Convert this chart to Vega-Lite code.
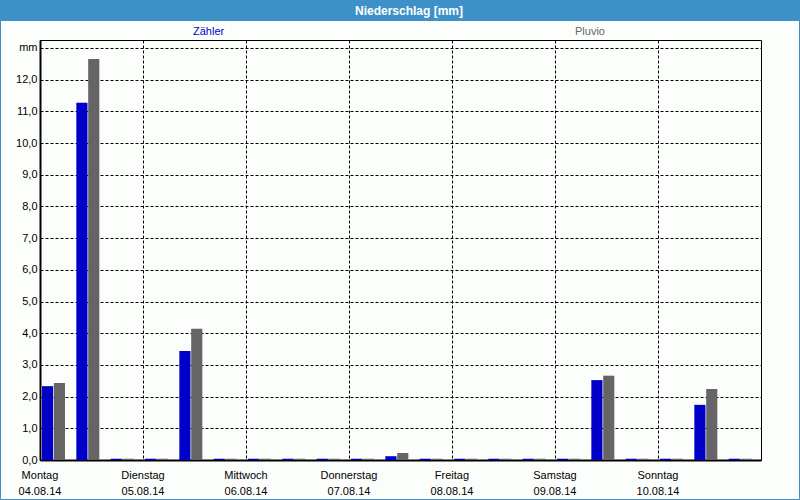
{
  "$schema": "https://vega.github.io/schema/vega-lite/v6.json",
  "width": 721,
  "height": 420,
  "autosize": {"type": "none"},
  "padding": {"left": 40, "top": 40, "right": 39, "bottom": 40},
  "background": "#fcfefc",
  "config": {
    "font": "Liberation Sans",
    "view": {"stroke": "#000000", "strokeWidth": 1},
    "axis": {"labelFont": "Liberation Sans", "labelFontSize": 11, "labelColor": "#000000"}
  },
  "layer": [
    {
      "data": {
        "values": [
          {"slot": 0, "series": "Zähler", "mm": 2.33}, {"slot": 0, "series": "Pluvio", "mm": 2.43},
          {"slot": 1, "series": "Zähler", "mm": 11.27}, {"slot": 1, "series": "Pluvio", "mm": 12.65},
          {"slot": 2, "series": "Zähler", "mm": 0.04}, {"slot": 2, "series": "Pluvio", "mm": 0.04},
          {"slot": 3, "series": "Zähler", "mm": 0.04}, {"slot": 3, "series": "Pluvio", "mm": 0.04},
          {"slot": 4, "series": "Zähler", "mm": 3.44}, {"slot": 4, "series": "Pluvio", "mm": 4.14},
          {"slot": 5, "series": "Zähler", "mm": 0.04}, {"slot": 5, "series": "Pluvio", "mm": 0.04},
          {"slot": 6, "series": "Zähler", "mm": 0.04}, {"slot": 6, "series": "Pluvio", "mm": 0.04},
          {"slot": 7, "series": "Zähler", "mm": 0.04}, {"slot": 7, "series": "Pluvio", "mm": 0.04},
          {"slot": 8, "series": "Zähler", "mm": 0.04}, {"slot": 8, "series": "Pluvio", "mm": 0.04},
          {"slot": 9, "series": "Zähler", "mm": 0.04}, {"slot": 9, "series": "Pluvio", "mm": 0.04},
          {"slot": 10, "series": "Zähler", "mm": 0.12}, {"slot": 10, "series": "Pluvio", "mm": 0.22},
          {"slot": 11, "series": "Zähler", "mm": 0.04}, {"slot": 11, "series": "Pluvio", "mm": 0.04},
          {"slot": 12, "series": "Zähler", "mm": 0.04}, {"slot": 12, "series": "Pluvio", "mm": 0.04},
          {"slot": 13, "series": "Zähler", "mm": 0.04}, {"slot": 13, "series": "Pluvio", "mm": 0.04},
          {"slot": 14, "series": "Zähler", "mm": 0.04}, {"slot": 14, "series": "Pluvio", "mm": 0.04},
          {"slot": 15, "series": "Zähler", "mm": 0.04}, {"slot": 15, "series": "Pluvio", "mm": 0.04},
          {"slot": 16, "series": "Zähler", "mm": 2.52}, {"slot": 16, "series": "Pluvio", "mm": 2.66},
          {"slot": 17, "series": "Zähler", "mm": 0.04}, {"slot": 17, "series": "Pluvio", "mm": 0.04},
          {"slot": 18, "series": "Zähler", "mm": 0.04}, {"slot": 18, "series": "Pluvio", "mm": 0.04},
          {"slot": 19, "series": "Zähler", "mm": 1.74}, {"slot": 19, "series": "Pluvio", "mm": 2.24},
          {"slot": 20, "series": "Zähler", "mm": 0.04}, {"slot": 20, "series": "Pluvio", "mm": 0.04}
        ]
      },
      "mark": {"type": "bar"},
      "encoding": {
        "x": {
          "field": "slot",
          "type": "ordinal",
          "scale": {"domain": [0,1,2,3,4,5,6,7,8,9,10,11,12,13,14,15,16,17,18,19,20], "paddingInner": 0, "paddingOuter": 0},
          "axis": {
            "title": null,
            "values": [0, 3, 6, 9, 12, 15, 18],
            "bandPosition": 0,
            "labelAngle": 0,
            "labelAlign": "center",
            "labelBaseline": "top",
            "labelPadding": 9,
            "labelOffset": -17.2,
            "labelLineHeight": 16,
            "labelOverlap": false,
            "labelBound": false,
            "labelFlush": false,
            "ticks": false,
            "domain": true,
            "domainColor": "#000000",
            "domainWidth": 2,
            "grid": true,
            "gridColor": "#000000",
            "gridDash": [3, 2],
            "gridOpacity": 1,
            "gridWidth": 1,
            "labelExpr": "[['Montag','04.08.14'],['Dienstag','05.08.14'],['Mittwoch','06.08.14'],['Donnerstag','07.08.14'],['Freitag','08.08.14'],['Samstag','09.08.14'],['Sonntag','10.08.14']][datum.value/3]"
          }
        },
        "xOffset": {
          "field": "series",
          "type": "nominal",
          "scale": {"domain": ["Zähler", "Pluvio"], "range": [2, 25], "paddingInner": 0.06, "paddingOuter": 0}
        },
        "y": {
          "field": "mm",
          "type": "quantitative",
          "scale": {"domain": [0, 13.25], "nice": false, "zero": true},
          "axis": {
            "title": null,
            "values": [0,1,2,3,4,5,6,7,8,9,10,11,12,13],
            "labelExpr": "datum.value == 13 ? 'mm' : replace(format(datum.value, '.1f'), '.', ',')",
            "ticks": false,
            "labelPadding": 3,
            "domain": true,
            "domainColor": "#000000",
            "domainWidth": 2,
            "grid": true,
            "gridColor": "#000000",
            "gridDash": [3, 2],
            "gridOpacity": 1,
            "gridWidth": 1
          }
        },
        "color": {
          "field": "series",
          "type": "nominal",
          "scale": {"domain": ["Zähler", "Pluvio"], "range": ["#0000c8", "#666466"]},
          "legend": {
            "title": null,
            "orient": "none",
            "legendX": 142,
            "legendY": -14,
            "direction": "horizontal",
            "symbolSize": 0,
            "symbolStrokeWidth": 0,
            "symbolOpacity": 0,
            "labelOffset": 0,
            "columnPadding": 339,
            "labelFont": "Liberation Sans",
            "labelFontSize": 11,
            "labelColor": "#666466",
            "encode": {"labels": {"update": {"fill": {"signal": "datum.value === 'Zähler' ? '#0000c8' : '#666466'"}}}}
          }
        }
      }
    },
    {
      "data": {"values": [{"t": "Niederschlag [mm]"}]},
      "layer": [
        {
          "mark": {"type": "rect", "fill": "#3d91c8", "clip": false},
          "encoding": {"x": {"value": -40}, "x2": {"value": 760}, "y": {"value": -40}, "y2": {"value": -19}}
        },
        {
          "mark": {"type": "rect", "filled": false, "stroke": "#3d91c8", "strokeWidth": 1, "clip": false},
          "encoding": {"x": {"value": -39.5}, "x2": {"value": 759.5}, "y": {"value": -39.5}, "y2": {"value": 459.5}}
        },
        {
          "mark": {"type": "text", "color": "#ffffff", "font": "Liberation Sans", "fontSize": 12, "fontWeight": "bold", "align": "center", "baseline": "middle", "clip": false},
          "encoding": {"x": {"value": 369}, "y": {"value": -29.5}, "text": {"field": "t"}}
        }
      ]
    }
  ]
}
